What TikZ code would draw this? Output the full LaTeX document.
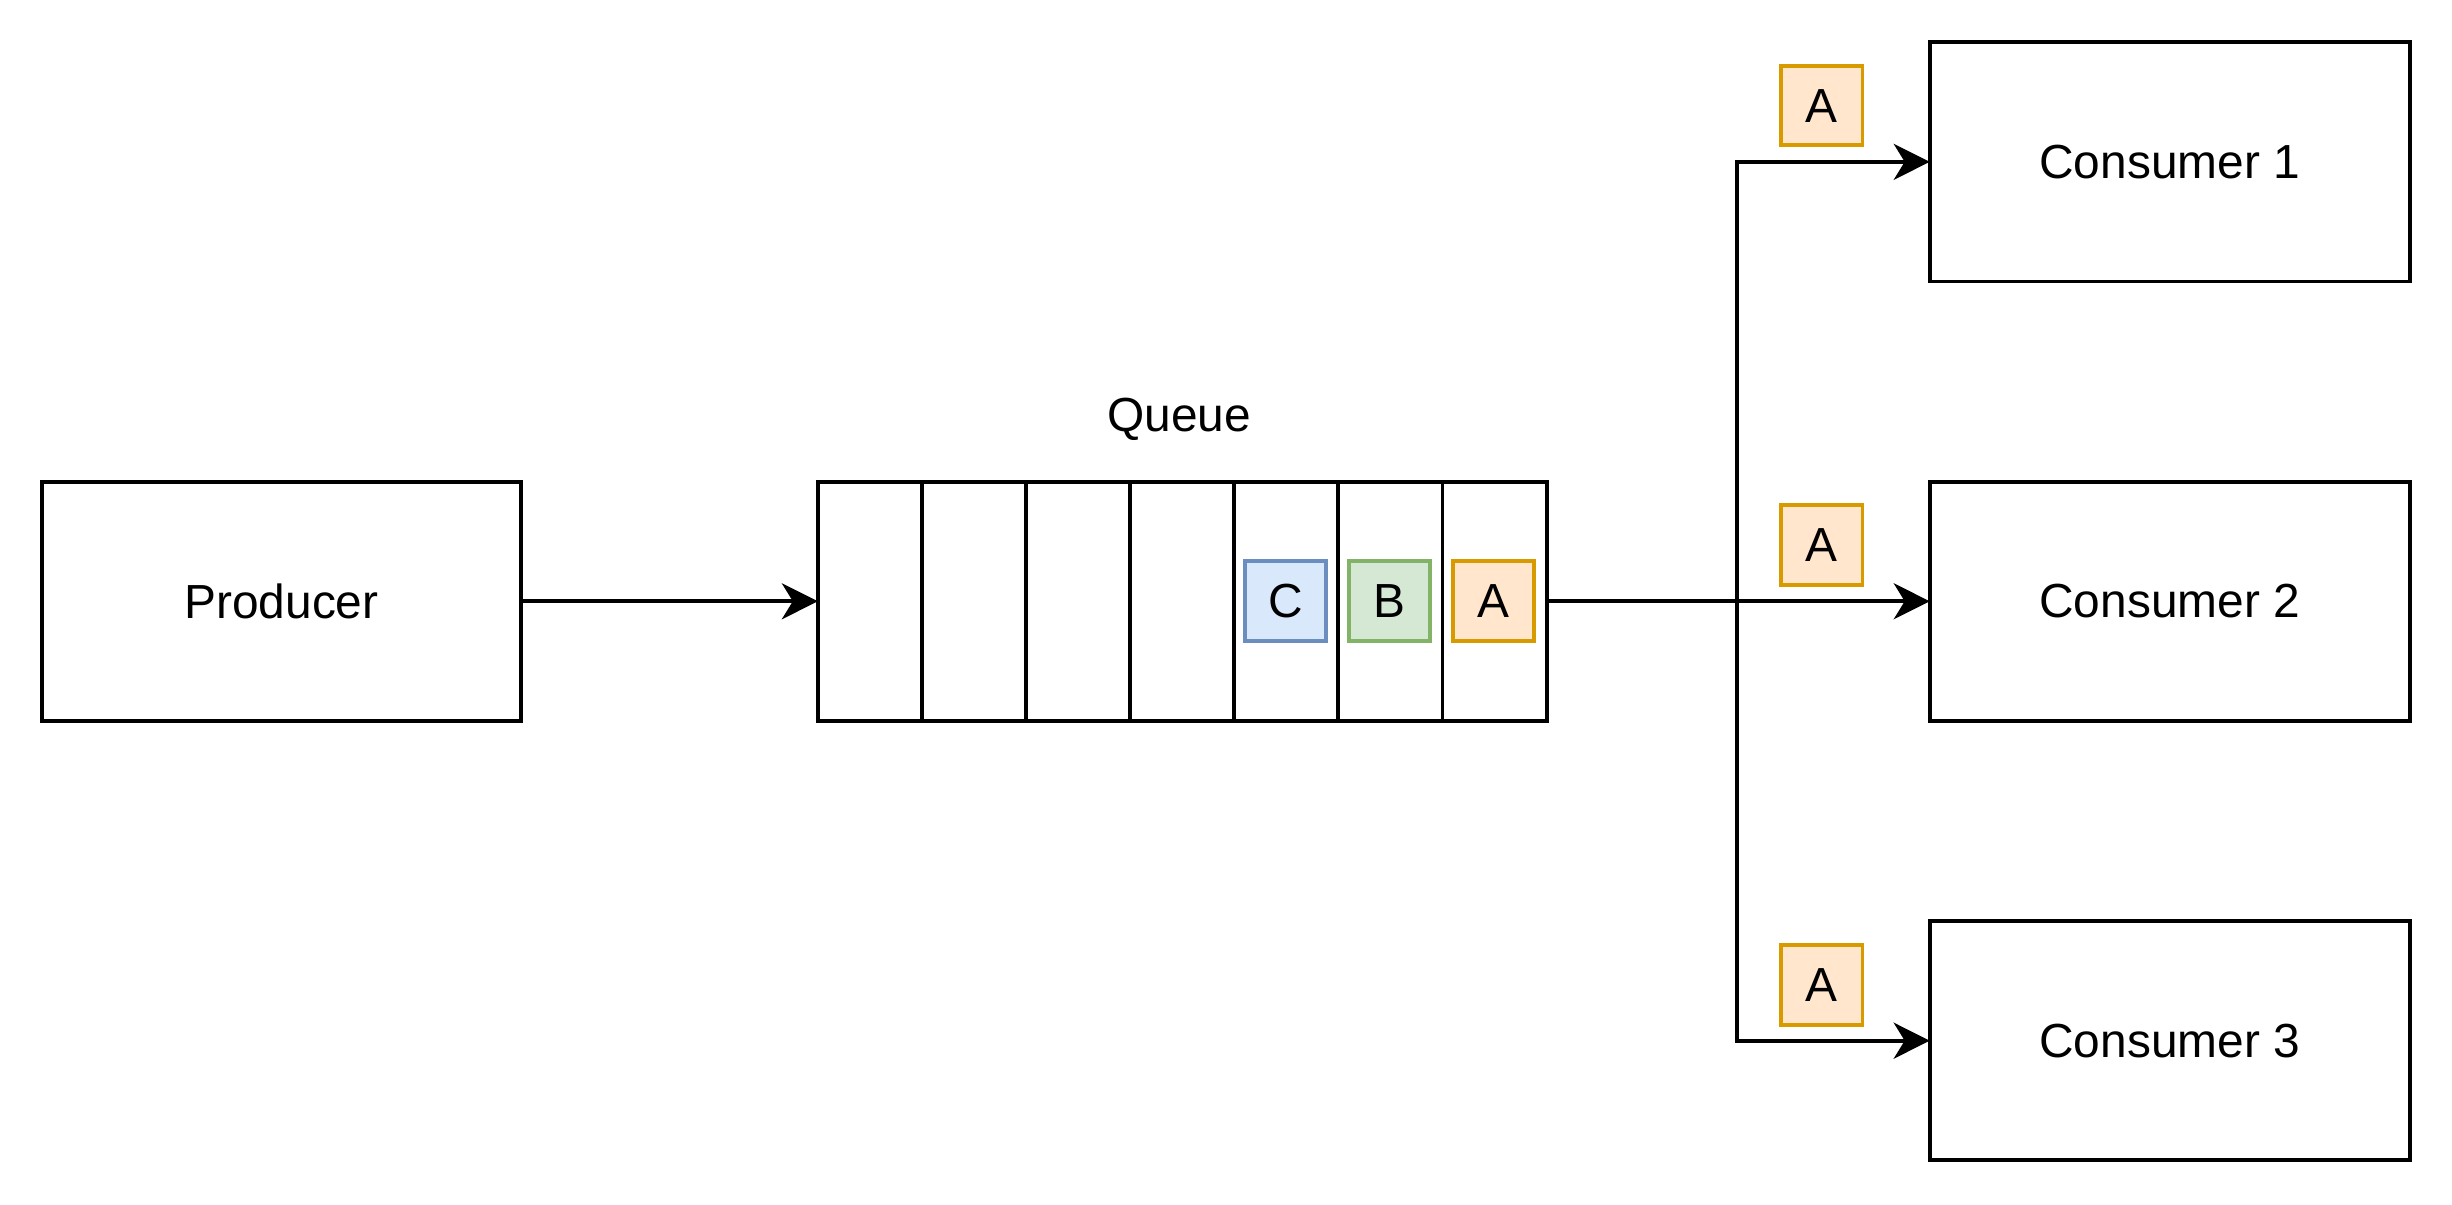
\documentclass[tikz,border=0pt]{standalone}
\usepackage{fontspec}
\setmainfont{Liberation Sans}
\usetikzlibrary{arrows.meta}
\definecolor{bluefill}{HTML}{DAE8FC}\definecolor{bluestroke}{HTML}{6C8EBF}
\definecolor{greenfill}{HTML}{D5E8D4}\definecolor{greenstroke}{HTML}{82B366}
\definecolor{orangefill}{HTML}{FFE6CC}\definecolor{orangestroke}{HTML}{D79B00}
\begin{document}
\begin{tikzpicture}[x=1pt,y=-1pt,
  every node/.style={font=\fontsize{30.6}{36}\selectfont, inner sep=0pt, outer sep=0pt},
  box/.style={draw, line width=2.5pt, minimum width=306pt, minimum height=153pt},
  cell/.style={draw, line width=2.5pt, minimum width=66.6pt, minimum height=153pt},
  item/.style={draw, line width=2.5pt, minimum width=52pt, minimum height=51pt},
  itemA/.style={item, fill=orangefill, draw=orangestroke},
  itemB/.style={item, fill=greenfill, draw=greenstroke},
  itemC/.style={item, fill=bluefill, draw=bluestroke},
  conn/.style={line width=2.5pt, -{Stealth[length=23pt, width=23pt, inset=7pt]}},
  plain/.style={line width=2.5pt}]
\useasboundingbox (0,0) rectangle (1568,770);
\node[box] (prod) at (180,384.5) {Producer};
\foreach \i in {1,...,7} {
  \node[cell] (c\i) at ({523+66.57*(\i-0.5)},384.5) {};
}
\node (qlabel) at (754,268) {Queue};
\node[itemC] (ic) at (822,384.5) {C};
\node[itemB] (ib) at (888.5,384.5) {B};
\node[itemA] (ia) at (955,384.5) {A};
\node[box, minimum width=307pt] (cons1) at (1387.5,103.5) {Consumer 1};
\node[box, minimum width=307pt] (cons2) at (1387.5,384.5) {Consumer 2};
\node[box, minimum width=307pt] (cons3) at (1387.5,665.5) {Consumer 3};
\node[itemA] (a1) at (1165,67.5) {A};
\node[itemA] (a2) at (1165,348.5) {A};
\node[itemA] (a3) at (1165,630) {A};
\coordinate (split) at (1111,384.5);
\draw[conn] (prod.east) -- (c1.west);
\draw[plain] (c7.east) -- (split);
\draw[conn] (split) |- (cons1.west);
\draw[conn] (split) -- (cons2.west);
\draw[conn] (split) |- (cons3.west);
\end{tikzpicture}
\end{document}
